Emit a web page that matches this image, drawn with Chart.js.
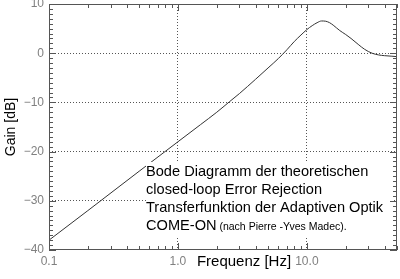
<!DOCTYPE html>
<html>
<head>
<meta charset="utf-8">
<script src="https://cdn.jsdelivr.net/npm/chart.js@4.4.0/dist/chart.umd.min.js"></script>
<style>
  html, body { margin: 0; padding: 0; background: #fff; }
  #wrap { width: 400px; height: 279px; }
</style>
</head>
<body>
<div id="wrap"><canvas id="bode"></canvas></div>
<script>
// frequencies in Hz and gain in dB
const freqHz = [0.1, 0.2, 0.5, 1, 1.5, 2, 2.5, 3, 4, 5, 6, 7, 8, 9, 10, 11, 12, 13, 14, 15, 16, 18, 20, 22, 25, 28, 32, 36, 40, 45, 50];
const gainDb = [-38, -32, -24, -18, -14.5, -12, -9.9, -8.2, -5.3, -3.0, -1.1, 0.7, 2.4, 3.7, 4.8, 5.6, 6.2, 6.55, 6.5, 6.2, 5.7, 4.6, 3.8, 3.0, 1.8, 0.8, 0, -0.35, -0.5, -0.6, -0.7];

const xTicks = [0.1, 1, 10];
const xTickLabels = ['0.1', '1.0', '10.0'];
const yTicks = [-40, -30, -20, -10, 0, 10];

const noteLines = [
    'Bode Diagramm der theoretischen',
    'closed-loop Error Rejection',
    'Transferfunktion der Adaptiven Optik'
];
const noteLast = 'COME-ON';
const noteSmall = ' (nach Pierre -Yves Madec).';

const FONT = '"Liberation Sans", Arial, Helvetica, sans-serif';

// inward tick marks on all four sides + frame
const framePlugin = {
    id: 'frame',
    afterDraw(chart) {
        const {ctx, chartArea: a, scales: {x, y}} = chart;
        ctx.save();
        ctx.strokeStyle = '#555';
        ctx.lineWidth = 1;
        ctx.beginPath();
        for (let v = -40; v <= 10; v++) {
            const py = Math.round(y.getPixelForValue(v)) + 0.5;
            const len = v % 10 === 0 ? 7 : 4;
            ctx.moveTo(a.left, py); ctx.lineTo(a.left + len, py);
            ctx.moveTo(a.right, py); ctx.lineTo(a.right - len, py);
        }
        [0.1, 1, 10].forEach(dec => {
            for (let m = 1; m <= 9; m++) {
                const v = dec * m;
                if (v > 50) break;
                const px = Math.round(x.getPixelForValue(v)) + 0.5;
                const len = m === 1 ? 7 : 4;
                ctx.moveTo(px, a.bottom); ctx.lineTo(px, a.bottom - len);
                ctx.moveTo(px, a.top); ctx.lineTo(px, a.top + len);
            }
        });
        ctx.stroke();
        ctx.strokeRect(a.left + 0.5, a.top + 0.5, a.right - a.left - 1, a.bottom - a.top - 1);
        ctx.restore();
    }
};

// text box with white background and x axis title
const notePlugin = {
    id: 'note',
    afterDatasetsDraw(chart) {
        const {ctx} = chart;
        ctx.save();
        ctx.fillStyle = '#fff';
        ctx.fillRect(146, 162, 247, 76);
        ctx.fillStyle = '#000';
        ctx.textBaseline = 'middle';
        ctx.font = '14.6px ' + FONT;
        let yy = 172;
        noteLines.forEach(t => { ctx.fillText(t, 146, yy); yy += 18; });
        ctx.fillText(noteLast, 146, yy);
        const w = ctx.measureText(noteLast).width;
        ctx.font = '10.5px ' + FONT;
        ctx.fillText(noteSmall, 146 + w, yy + 1);
        ctx.font = '15px ' + FONT;
        ctx.textAlign = 'center';
        ctx.fillText('Frequenz [Hz]', 244, 262);
        ctx.restore();
    }
};

new Chart(document.getElementById('bode'), {
    type: 'line',
    data: {
        datasets: [{
            data: freqHz.map((f, i) => ({x: f, y: gainDb[i]})),
            borderColor: '#333',
            borderWidth: 1,
            pointRadius: 0,
            cubicInterpolationMode: 'monotone',
            fill: false
        }]
    },
    options: {
        responsive: true,
        maintainAspectRatio: false,
        animation: false,
        events: [],
        layout: { padding: { top: 4, right: 3, left: 0, bottom: 0 } },
        plugins: { legend: { display: false }, tooltip: { enabled: false } },
        scales: {
            x: {
                type: 'logarithmic',
                min: 0.1,
                max: 50,
                afterBuildTicks: s => { s.ticks = xTicks.map(v => ({value: v})); },
                afterFit: s => {
                    s.height = 29;
                    s.paddingLeft = 0; s.paddingRight = 0;
                    s.paddingTop = 0; s.paddingBottom = 0;
                },
                ticks: {
                    autoSkip: false,
                    maxRotation: 0,
                    padding: 4,
                    color: '#808080',
                    font: { family: FONT, size: 12 },
                    callback: v => xTickLabels[xTicks.indexOf(v)] ?? ''
                },
                grid: {
                    drawTicks: false,
                    color: c => (c.tick && c.tick.value > 0.1) ? '#555' : 'rgba(0,0,0,0)',
                    lineWidth: 1
                },
                border: { display: false, dash: [1, 2] }
            },
            y: {
                min: -40,
                max: 10,
                afterBuildTicks: s => { s.ticks = yTicks.map(v => ({value: v})); },
                afterFit: s => {
                    s.width = 49;
                    s.paddingLeft = 0; s.paddingRight = 0;
                    s.paddingTop = 0; s.paddingBottom = 0;
                },
                ticks: {
                    padding: 5,
                    color: '#808080',
                    font: { family: FONT, size: 12 },
                    callback: v => v < 0 ? '\u2212' + Math.abs(v) : String(v)
                },
                grid: {
                    drawTicks: false,
                    color: c => (c.tick && c.tick.value > -40 && c.tick.value < 10) ? '#555' : 'rgba(0,0,0,0)',
                    lineWidth: 1
                },
                border: { display: false, dash: [1, 2] },
                title: {
                    display: true,
                    text: 'Gain [dB]',
                    color: '#000',
                    font: { family: FONT, size: 14 },
                    padding: { top: 3, bottom: 0 }
                }
            }
        }
    },
    plugins: [framePlugin, notePlugin]
});
</script>
</body>
</html>
